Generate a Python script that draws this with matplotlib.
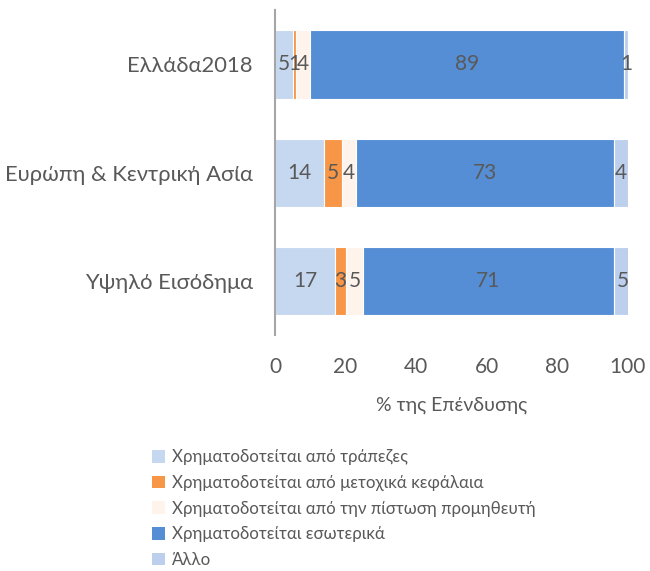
import matplotlib

matplotlib.use("Agg")
import matplotlib.pyplot as plt
from matplotlib.patches import Patch

plt.rcParams["font.family"] = ["Lato", "DejaVu Sans"]

categories = ["Ελλάδα2018", "Ευρώπη & Κεντρική Ασία", "Υψηλό Εισόδημα"]
series_names = [
    "Χρηματοδοτείται από τράπεζες",
    "Χρηματοδοτείται από μετοχικά κεφάλαια",
    "Χρηματοδοτείται από την πίστωση προμηθευτή",
    "Χρηματοδοτείται εσωτερικά",
    "Άλλο",
]
banks = [5, 14, 17]
equity = [1, 5, 3]
supplier = [4, 4, 5]
internal = [89, 73, 71]
other = [1, 4, 5]
colors = ["#C6D8F0", "#F79646", "#FEF4EC", "#558ED5", "#BCD0EE"]
xticks = [0, 20, 40, 60, 80, 100]

TXT = "#595959"

fig = plt.figure(figsize=(6.5, 5.71), dpi=100)
ax = fig.add_axes([0.423, 0.413, 0.543, 0.569])

ypos = [2, 1, 0]
left = [0, 0, 0]
for vals, col in zip([banks, equity, supplier, internal, other], colors):
    ax.barh(ypos, vals, left=left, height=0.63, color=col,
            edgecolor="white", linewidth=0.8)
    for y, v, l in zip(ypos, vals, left):
        ax.text(l + v / 2, y, str(v), ha="center", va="center",
                fontsize=15, color=TXT)
    left = [a + b for a, b in zip(left, vals)]

ax.set_xlim(0, 100)
ax.set_ylim(-0.5, 2.5)
ax.set_xticks(xticks)
ax.set_xticklabels([str(t) for t in xticks], fontsize=15, color=TXT)
ax.set_yticks(ypos)
ax.set_yticklabels(categories, fontsize=15.8, color=TXT)
ax.tick_params(axis="x", length=0, pad=16)
ax.tick_params(axis="y", length=0, pad=16)
ax.set_xlabel("% της Επένδυσης", fontsize=14, color=TXT, labelpad=14)
for s in ["top", "right", "bottom"]:
    ax.spines[s].set_visible(False)
ax.spines["left"].set_color("#A6A6A6")
ax.spines["left"].set_linewidth(1.5)

handles = [Patch(facecolor=c, edgecolor="none") for c in colors]
fig.legend(handles, series_names, loc="upper left",
           bbox_to_anchor=(0.221, 0.228), frameon=False, fontsize=12.2,
           labelcolor=TXT, handlelength=0.75, handleheight=0.75,
           handletextpad=0.4, labelspacing=0.57, borderpad=0)

fig.savefig("out.png", dpi=100)
